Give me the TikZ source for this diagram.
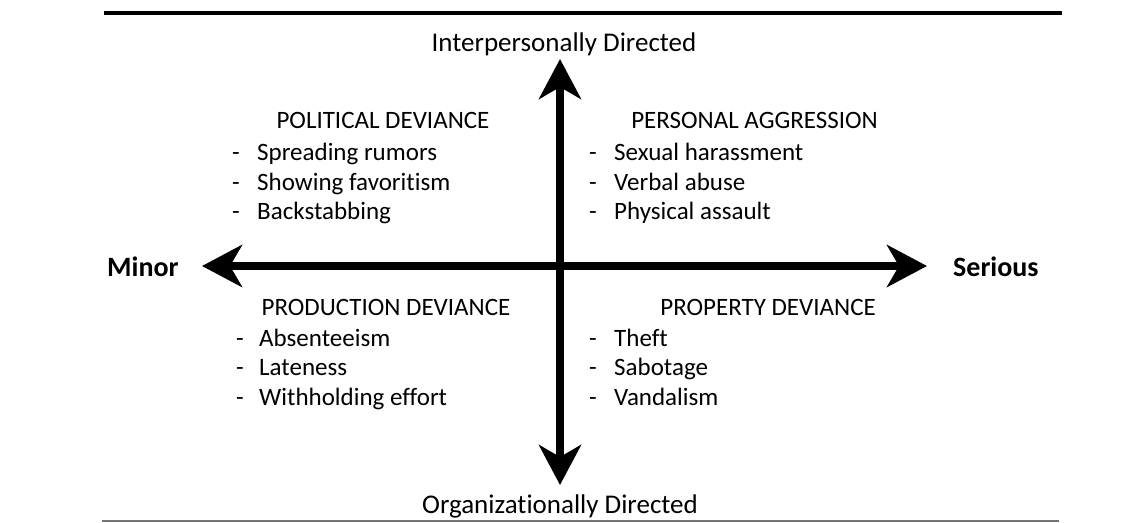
\documentclass[tikz,border=0pt]{standalone}
\usepackage{fontspec}
\setmainfont{Carlito}[Ligatures=NoCommon]
\usetikzlibrary{arrows.meta}
\begin{document}
\begin{tikzpicture}[x=1pt,y=-1pt,
  txt/.style={inner sep=0pt, font=\fontsize{25}{30}\selectfont},
  axlab/.style={inner sep=0pt, font=\fontsize{27}{32}\selectfont},
  bold/.style={inner sep=0pt, font=\fontsize{28}{33}\selectfont\bfseries},
  axis/.style={line width=8.5pt, arrows={Stealth[length=40pt,width=42pt,inset=12pt]-Stealth[length=40pt,width=42pt,inset=12pt]}}
]
\useasboundingbox (0,0) rectangle (1145,522);
\draw[line width=4pt] (104,13) -- (1062,13);
\draw[line width=1.5pt, color=black!55] (102,521) -- (1059,521);

\coordinate (L) at (202,266);
\coordinate (R) at (927,266);
\coordinate (T) at (560,59);
\coordinate (B) at (560,485);
\draw[axis] (L) -- (R);
\draw[axis] (T) -- (B);

\node[axlab, anchor=base] (inter) at (564,51) {Interpersonally Directed};
\node[axlab, anchor=base] (org) at (560,513) {Organizationally Directed};
\node[bold, anchor=base west] (minor) at (107,276) {Minor};
\node[bold, anchor=base west] (serious) at (953,276) {Serious};

% top-left
\node[txt, anchor=base] (polh) at (383,128) {POLITICAL DEVIANCE};
\node[txt, anchor=base west] (pold1) at (232,160.5) {-};
\node[txt, anchor=base west] (pol1) at (257,160.5) {Spreading rumors};
\node[txt, anchor=base west] (pold2) at (232,190) {-};
\node[txt, anchor=base west] (pol2) at (257,190) {Showing favoritism};
\node[txt, anchor=base west] (pold3) at (232,219.5) {-};
\node[txt, anchor=base west] (pol3) at (257,219.5) {Backstabbing};

% top-right
\node[txt, anchor=base east] (perh) at (878,128) {PERSONAL AGGRESSION};
\node[txt, anchor=base west] (perd1) at (589,160.5) {-};
\node[txt, anchor=base west] (per1) at (614,160.5) {Sexual harassment};
\node[txt, anchor=base west] (perd2) at (589,190) {-};
\node[txt, anchor=base west] (per2) at (614,190) {Verbal abuse};
\node[txt, anchor=base west] (perd3) at (589,219.5) {-};
\node[txt, anchor=base west] (per3) at (614,219.5) {Physical assault};

% bottom-left
\node[txt, anchor=base] (proh) at (386,315) {PRODUCTION DEVIANCE};
\node[txt, anchor=base west] (prod1) at (236,346) {-};
\node[txt, anchor=base west] (pro1) at (259,346) {Absenteeism};
\node[txt, anchor=base west] (prod2) at (236,375.5) {-};
\node[txt, anchor=base west] (pro2) at (259,375.5) {Lateness};
\node[txt, anchor=base west] (prod3) at (236,405) {-};
\node[txt, anchor=base west] (pro3) at (259,405) {Withholding effort};

% bottom-right
\node[txt, anchor=base east] (prph) at (876,315) {PROPERTY DEVIANCE};
\node[txt, anchor=base west] (prpd1) at (589,346) {-};
\node[txt, anchor=base west] (prp1) at (614,346) {Theft};
\node[txt, anchor=base west] (prpd2) at (589,375.5) {-};
\node[txt, anchor=base west] (prp2) at (614,375.5) {Sabotage};
\node[txt, anchor=base west] (prpd3) at (589,405) {-};
\node[txt, anchor=base west] (prp3) at (614,405) {Vandalism};
\end{tikzpicture}
\end{document}
